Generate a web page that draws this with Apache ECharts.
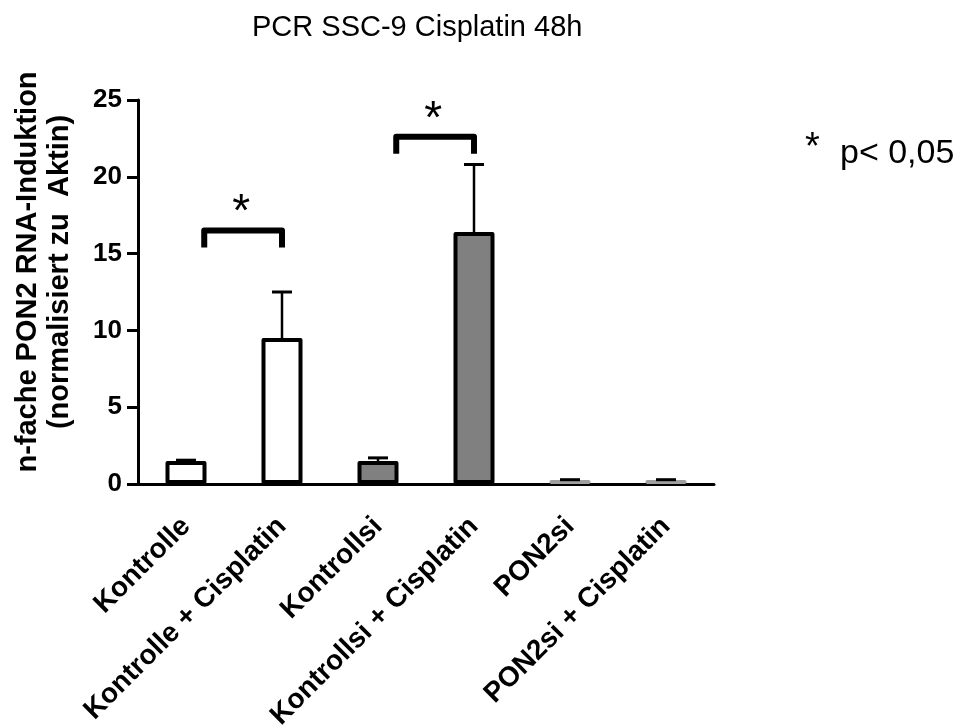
<!DOCTYPE html>
<html>
<head>
<meta charset="utf-8">
<script src="https://cdn.jsdelivr.net/npm/echarts@6/dist/echarts.min.js"></script>
<style>html,body{margin:0;padding:0;background:#fff}#c{width:972px;height:727px}</style>
</head>
<body>
<div id="c"></div>
<script>
// ---- data ----
var categories = ['Kontrolle', 'Kontrolle + Cisplatin', 'Kontrollsi', 'Kontrollsi + Cisplatin', 'PON2si', 'PON2si + Cisplatin'];
var means = [1.5, 9.5, 1.5, 16.4, 0.25, 0.25];
var sds = [0.05, 3.0, 0.2, 4.4, 0.03, 0.03];
// significance brackets: [fromIndex, toIndex, height]
var brackets = [[0, 1, 16.5], [2, 3, 22.6]];
var yTicks = [0, 5, 10, 15, 20, 25];

// ---- styles ----
var fills = ['#ffffff', '#ffffff', '#808080', '#808080', '#a0a0a0', '#a0a0a0'];
var borders = ['#000', '#000', '#000', '#000', '#a0a0a0', '#a0a0a0'];
var FONT = 'Liberation Sans, Arial, sans-serif';

var chart = echarts.init(document.getElementById('c'), null, {renderer: 'canvas'});

var barData = means.map(function (v, i) {
  return {value: v, itemStyle: {color: fills[i], borderColor: borders[i]}};
});
var errData = means.map(function (v, i) { return [i, v, v + sds[i]]; });

var option = {
  backgroundColor: '#fff',
  animation: false,
  title: {
    text: 'PCR SSC-9 Cisplatin 48h',
    left: 247, top: 8,
    textStyle: {fontFamily: FONT, fontWeight: 'normal', fontSize: 29, color: '#000'}
  },
  grid: {left: 138, right: 258, top: 100, bottom: 243, containLabel: false, outerBoundsMode: 'none'},
  xAxis: {
    type: 'category',
    data: categories,
    boundaryGap: true,
    axisLine: {lineStyle: {color: '#000', width: 3}},
    axisTick: {alignWithLabel: true, length: 11, lineStyle: {color: '#000', width: 3}},
    axisLabel: {rotate: 45, margin: 38, interval: 0, color: '#000', fontFamily: FONT, fontWeight: 'bold', fontSize: 28}
  },
  yAxis: {
    type: 'value',
    min: 0, max: 25, interval: 5,
    name: 'n-fache PON2 RNA-Induktion\n(normalisiert zu  Aktin)',
    nameLocation: 'middle',
    nameRotate: 90,
    nameGap: 62,
    nameTextStyle: {fontFamily: FONT, fontWeight: 'bold', fontSize: 29, lineHeight: 32, color: '#000', align: 'center',
      padding: [0, 0, 0, 40]},
    axisLine: {show: true, lineStyle: {color: '#000', width: 3}},
    axisTick: {show: true, length: 11, lineStyle: {color: '#000', width: 3}},
    splitLine: {show: false},
    axisLabel: {margin: 16, color: '#000', fontFamily: FONT, fontWeight: 'bold', fontSize: 26,
      formatter: function (v) { return yTicks.indexOf(v) >= 0 ? String(v) : ''; }}
  },
  series: [
    {
      type: 'bar',
      data: barData,
      barWidth: 41,
      itemStyle: {borderWidth: 4, borderJoin: 'round'},
      z: 2
    },
    {
      type: 'custom',
      data: errData,
      encode: {x: 0, y: [1, 2]},
      z: 3,
      renderItem: function (params, api) {
        var i = api.value(0);
        var p0 = api.coord([i, api.value(1)]);
        var p1 = api.coord([i, api.value(2)]);
        var hw = 10;
        return {
          type: 'group',
          children: [
            {type: 'line', shape: {x1: p0[0], y1: p0[1], x2: p1[0], y2: p1[1]}, style: {stroke: '#000', lineWidth: 2.5}},
            {type: 'line', shape: {x1: p1[0] - hw, y1: p1[1], x2: p1[0] + hw, y2: p1[1]}, style: {stroke: '#000', lineWidth: 3}}
          ]
        };
      }
    },
    {
      type: 'custom',
      data: brackets,
      encode: {x: 0, y: 2},
      z: 4,
      renderItem: function (params, api) {
        var a = api.coord([api.value(0), api.value(2)]);
        var b = api.coord([api.value(1), api.value(2)]);
        var band = api.size([1, 0])[0];
        var xl = a[0] + 0.19 * band;
        var xr = b[0];
        var y = a[1];
        var leg = 17;
        return {
          type: 'group',
          children: [
            {type: 'polyline', shape: {points: [[xl, y + leg], [xl, y], [xr, y], [xr, y + leg]]},
              style: {stroke: '#000', lineWidth: 6, fill: null, lineJoin: 'round'}},
            {type: 'text', style: {text: '*', x: (xl + xr) / 2 - 2, y: y - 17, align: 'center', verticalAlign: 'middle',
              font: 'normal 46px ' + FONT, fill: '#000'}}
          ]
        };
      }
    }
  ],
  graphic: [
    {type: 'text', left: 805, top: 130, style: {text: '*', font: 'normal 38px ' + FONT, fill: '#000'}},
    {type: 'text', left: 840, top: 137, style: {text: 'p< 0,05', font: 'normal 34px ' + FONT, fill: '#000'}}
  ]
};
chart.setOption(option);
</script>
</body>
</html>
